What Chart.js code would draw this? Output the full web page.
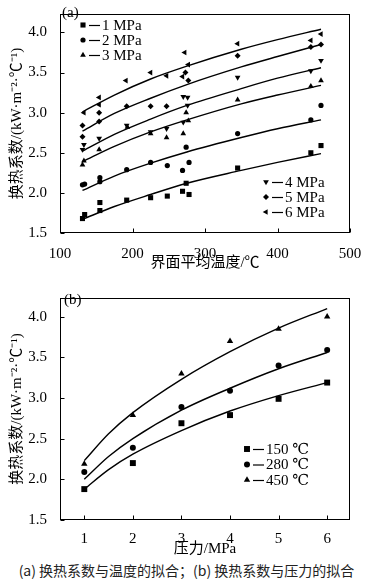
<!DOCTYPE html>
<html>
<head>
<meta charset="utf-8">
<script src="https://cdn.jsdelivr.net/npm/chart.js@4/dist/chart.umd.min.js"></script>
<style>
    body { margin: 0; background: #fff; }
    #wrap { position: relative; width: 373px; height: 582px; }
    canvas { position: absolute; left: 0; }
    #caption {
        position: absolute; top: 561px; left: 0; width: 373px;
        text-align: center; font: 14px/18px 'Noto Sans CJK SC', sans-serif; color: #222;
    }
</style>
</head>
<body>
<div id="wrap">
    <canvas id="chartA" width="373" height="283" style="top:0"></canvas>
    <canvas id="chartB" width="373" height="275" style="top:284px"></canvas>
    <div id="caption">(a) 换热系数与温度的拟合；(b) 换热系数与压力的拟合</div>
</div>
<script>
// (a) heat transfer coefficient vs interface mean temperature
const tempLow = [131, 134, 155, 155, 192, 225, 248, 269, 274, 278, 345, 446, 460];
const h1MPa = [1.68, 1.73, 1.78, 1.88, 1.91, 1.94, 1.96, 2.02, 2.12, 1.98, 2.31, 2.50, 2.59];
const h2MPa = [2.10, 2.11, 2.19, 2.14, 2.29, 2.38, 2.34, 2.28, 2.57, 2.38, 2.74, 2.91, 3.09];
const temp3MPa = [131, 133, 154, 193, 225, 247, 270, 274, 277, 345, 446, 460];
const h3MPa = [2.35, 2.40, 2.54, 2.82, 2.74, 2.69, 2.74, 3.00, 2.90, 3.16, 3.33, 3.40];
const temp4MPa = [131, 133, 154, 192, 225, 247, 270, 270, 276, 276, 345, 446, 460];
const h4MPa = [2.54, 2.60, 2.68, 2.84, 2.76, 2.80, 2.88, 3.20, 3.19, 3.09, 3.44, 3.52, 3.65];
const temp5MPa = [131, 131, 154, 154, 192, 225, 247, 273, 277, 345, 446, 460];
const h5MPa = [2.70, 2.84, 2.89, 3.00, 3.08, 3.08, 3.08, 3.50, 3.40, 3.71, 3.82, 3.85];
const temp6MPa = [133, 154, 154, 191, 225, 247, 269, 272, 277, 345, 446, 460];
const h6MPa = [3.00, 3.10, 3.19, 3.40, 3.50, 3.46, 3.45, 3.75, 3.60, 3.86, 3.90, 3.98];

const fitTemps = [131, 175, 225, 275, 350, 400, 460];
const fit1MPa = [1.67, 1.83, 1.98, 2.12, 2.28, 2.38, 2.49];
const fit2MPa = [2.03, 2.21, 2.37, 2.51, 2.69, 2.80, 2.91];
const fit3MPa = [2.39, 2.58, 2.76, 2.91, 3.11, 3.22, 3.34];
const fit4MPa = [2.52, 2.73, 2.92, 3.09, 3.30, 3.43, 3.56];
const fit5MPa = [2.77, 2.99, 3.18, 3.35, 3.57, 3.70, 3.85];
const fit6MPa = [3.01, 3.22, 3.42, 3.58, 3.79, 3.91, 4.04];

// (b) heat transfer coefficient vs pressure
const pressures = [1, 2, 3, 4, 5, 6];
const h150C = [1.88, 2.20, 2.69, 2.79, 2.99, 3.19];
const h280C = [2.09, 2.39, 2.89, 3.09, 3.40, 3.59];
const h450C = [2.19, 2.79, 3.30, 3.70, 3.85, 4.00];

const fitPressures = [1, 1.5, 2, 3, 4, 5, 6];
const fit150C = [1.88, 2.12, 2.31, 2.60, 2.84, 3.03, 3.19];
const fit280C = [2.00, 2.28, 2.50, 2.85, 3.12, 3.36, 3.56];
const fit450C = [2.23, 2.56, 2.82, 3.23, 3.57, 3.86, 4.10];

const yTicks = [1.5, 2.0, 2.5, 3.0, 3.5, 4.0];
const tempTicks = [100, 200, 300, 400, 500];
const pressureTicks = [1, 2, 3, 4, 5, 6];

const SERIF = "'Liberation Serif', 'Times New Roman', 'DejaVu Serif', serif";
const MIXED = "'Liberation Serif', 'Noto Sans CJK SC', serif";
const Y_TITLE = "换热系数/(kW·m⁻²·℃⁻¹)";

const pts = (xs, ys) => xs.map((x, i) => ({ x: x, y: ys[i] }));

function scatterSet(label, xs, ys, style, rot, r) {
    return {
        label: label, data: pts(xs, ys), showLine: false,
        pointStyle: style, pointRotation: rot, pointRadius: r, pointHoverRadius: r,
        backgroundColor: "#000", borderColor: "#000", borderWidth: 0,
    };
}

function fitSet(xs, ys) {
    return {
        label: "", data: pts(xs, ys), showLine: true,
        pointRadius: 0, borderColor: "#000", borderWidth: 1.4,
        cubicInterpolationMode: "monotone",
    };
}

function drawMarker(ctx, ds, x, y) {
    ctx.fillStyle = "#000";
    ctx.strokeStyle = "#000";
    Chart.helpers.drawPoint(ctx, {
        pointStyle: ds.pointStyle, rotation: ds.pointRotation,
        radius: ds.pointRadius, borderWidth: 0,
    }, x, y);
}

// frame, inward tick marks, panel tag and the split legends
const framePlugin = {
    id: "frame",
    afterDraw(chart, args, opts) {
        const { ctx, chartArea: a } = chart;
        const xs = chart.scales.x, ys = chart.scales.y;
        ctx.save();
        ctx.strokeStyle = "#000";
        ctx.lineWidth = 1;
        const l = Math.round(a.left) + 0.5, t = Math.round(a.top) + 0.5;
        const r = Math.round(a.right) - 0.5, b = Math.round(a.bottom) - 0.5;
        ctx.strokeRect(l, t, r - l, b - t);
        ctx.beginPath();
        yTicks.forEach(v => {
            const p = Math.round(ys.getPixelForValue(v)) + 0.5;
            ctx.moveTo(l, p); ctx.lineTo(l + 4, p);
        });
        opts.xTicks.forEach(v => {
            const p = Math.round(xs.getPixelForValue(v)) + 0.5;
            ctx.moveTo(p, b); ctx.lineTo(p, b - 4);
        });
        ctx.stroke();

        ctx.fillStyle = "#000";
        ctx.textBaseline = "middle";
        ctx.font = "15px " + SERIF;
        ctx.fillText(opts.tag.text, opts.tag.x, opts.tag.y);

        opts.groups.forEach(g => {
            g.rows.forEach((idx, k) => {
                const ds = chart.data.datasets[idx];
                const y = g.y + k * g.step;
                drawMarker(ctx, ds, g.x, y);
                ctx.beginPath();
                ctx.lineWidth = 1.2;
                ctx.moveTo(g.x + 6, y + 0.5);
                ctx.lineTo(g.x + 17, y + 0.5);
                ctx.stroke();
                ctx.fillStyle = "#000";
                ctx.font = "15px " + SERIF;
                ctx.fillText(ds.label, g.x + 19, y + 1);
            });
        });
        ctx.restore();
    },
};

function makeChart(id, datasets, cfg) {
    return new Chart(id, {
        type: "scatter",
        data: { datasets: datasets },
        plugins: [framePlugin],
        options: {
            responsive: false,
            animation: false,
            events: [],
            layout: { padding: { top: cfg.padTop, right: 23, left: 0, bottom: 0 } },
            plugins: {
                legend: { display: false },
                tooltip: { enabled: false },
                frame: { xTicks: cfg.xTicks, tag: cfg.tag, groups: cfg.groups },
            },
            scales: {
                x: {
                    type: "linear",
                    min: cfg.xMin, max: cfg.xMax,
                    afterBuildTicks: s => { s.ticks = cfg.xTicks.map(v => ({ value: v })); },
                    afterFit: s => { s.height = cfg.xHeight; },
                    grid: { display: false },
                    border: { display: false },
                    ticks: {
                        padding: cfg.xTickPad, color: "#000", maxRotation: 0,
                        font: { family: SERIF, size: 15 },
                        callback: v => String(v),
                    },
                    title: {
                        display: true, text: cfg.xTitle, color: "#000",
                        font: { family: MIXED, size: 15 },
                        padding: { top: 0, bottom: cfg.xTitlePad },
                    },
                },
                y: {
                    type: "linear",
                    min: 1.5, max: 4.23,
                    afterBuildTicks: s => { s.ticks = yTicks.map(v => ({ value: v })); },
                    afterFit: s => { s.width = 60; },
                    grid: { display: false },
                    border: { display: false },
                    ticks: {
                        padding: 5, color: "#000",
                        font: { family: SERIF, size: 15 },
                        callback: v => v.toFixed(1),
                    },
                    title: {
                        display: true, text: Y_TITLE, color: "#000",
                        font: { family: MIXED, size: 15 },
                        padding: { top: 8, bottom: 0 },
                    },
                },
            },
        },
    });
}

makeChart("chartA", [
    scatterSet("1 MPa", tempLow, h1MPa, "rect", 0, 3.6),
    scatterSet("2 MPa", tempLow, h2MPa, "circle", 0, 2.6),
    scatterSet("3 MPa", temp3MPa, h3MPa, "triangle", 0, 3.3),
    scatterSet("4 MPa", temp4MPa, h4MPa, "triangle", 180, 3.3),
    scatterSet("5 MPa", temp5MPa, h5MPa, "rectRot", 0, 3.0),
    scatterSet("6 MPa", temp6MPa, h6MPa, "triangle", 270, 3.3),
    fitSet(fitTemps, fit1MPa),
    fitSet(fitTemps, fit2MPa),
    fitSet(fitTemps, fit3MPa),
    fitSet(fitTemps, fit4MPa),
    fitSet(fitTemps, fit5MPa),
    fitSet(fitTemps, fit6MPa),
], {
    padTop: 2, xMin: 100, xMax: 500, xTicks: tempTicks,
    xHeight: 50, xTickPad: 4, xTitlePad: 11, xTitle: "界面平均温度/℃",
    tag: { text: "(a)", x: 62, y: 13 },
    groups: [
        { x: 83, y: 25, step: 15, rows: [0, 1, 2] },
        { x: 266, y: 182, step: 15, rows: [3, 4, 5] },
    ],
});

makeChart("chartB", [
    scatterSet("150 ℃", pressures, h150C, "rect", 0, 4.2),
    scatterSet("280 ℃", pressures, h280C, "circle", 0, 3.0),
    scatterSet("450 ℃", pressures, h450C, "triangle", 0, 3.7),
    fitSet(fitPressures, fit150C),
    fitSet(fitPressures, fit280C),
    fitSet(fitPressures, fit450C),
], {
    padTop: 3, xMin: 0.5, xMax: 6.47, xTicks: pressureTicks,
    xHeight: 39, xTickPad: 2, xTitlePad: 1, xTitle: "压力/MPa",
    tag: { text: "(b)", x: 64, y: 16 },
    groups: [
        { x: 247, y: 165, step: 15.5, rows: [0, 1, 2] },
    ],
});
</script>
</body>
</html>
